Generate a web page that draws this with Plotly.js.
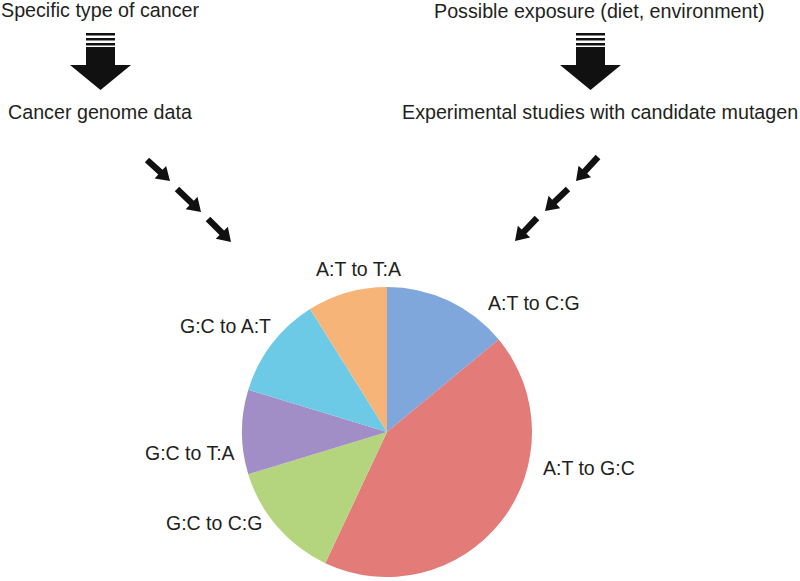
<!DOCTYPE html>
<html>
<head>
<meta charset="utf-8">
<script src="https://cdn.plot.ly/plotly-3.0.1.min.js"></script>
<style>html,body{margin:0;padding:0;background:#fff;}#chart{width:800px;height:581px;}</style>
</head>
<body>
<div id="chart"></div>
<script>
// ---- data ----
const mutationTypes = ["A:T to C:G", "A:T to G:C", "G:C to C:G", "G:C to T:A", "G:C to A:T", "A:T to T:A"];
const mutationShares = [14, 43, 13.3, 9.4, 11.4, 8.9];
const sliceColors = ["#7fa7dc", "#e37b79", "#b5d47e", "#a28ec6", "#6ccae6", "#f7b478"];
const flowTexts = ["Specific type of cancer", "Cancer genome data", "Possible exposure (diet, environment)", "Experimental studies with candidate mutagen"];

// ---- layout helpers (pixel -> paper) ----
const W = 800, H = 581;
const px = x => x / W;
const py = y => 1 - y / H;
const P = (x, y) => px(x) + "," + py(y);

function blockArrow(cx) {
  const shapes = [];
  const bw = 14.5, hw = 30.5;
  const stripes = [[33, 35.5], [38, 40.5], [43, 45.5]];
  stripes.forEach(s => {
    shapes.push({type: "path", xref: "paper", yref: "paper",
      path: "M" + P(cx - bw, s[0]) + " L" + P(cx + bw, s[0]) + " L" + P(cx + bw, s[1]) + " L" + P(cx - bw, s[1]) + " Z",
      fillcolor: "#111", line: {width: 0}});
  });
  shapes.push({type: "path", xref: "paper", yref: "paper",
    path: "M" + P(cx - bw, 47) + " L" + P(cx + bw, 47) + " L" + P(cx + bw, 65) + " L" + P(cx + hw, 65) +
          " L" + P(cx, 90) + " L" + P(cx - hw, 65) + " L" + P(cx - bw, 65) + " Z",
    fillcolor: "#111", line: {width: 0}});
  return shapes;
}

function diagArrow(x0, y0, x1, y1) {
  const dx = x1 - x0, dy = y1 - y0;
  const L = Math.hypot(dx, dy);
  const ux = dx / L, uy = dy / L, nx = -uy, ny = ux;
  const sw = 3.2, hw = 8.5, hl = 13;
  const bx = x1 - ux * hl, by = y1 - uy * hl;
  const pts = [
    [x0 + nx * sw, y0 + ny * sw],
    [bx + nx * sw, by + ny * sw],
    [bx + nx * hw, by + ny * hw],
    [x1, y1],
    [bx - nx * hw, by - ny * hw],
    [bx - nx * sw, by - ny * sw],
    [x0 - nx * sw, y0 - ny * sw]
  ];
  return {type: "path", xref: "paper", yref: "paper",
    path: "M" + pts.map(p => P(p[0], p[1])).join(" L") + " Z",
    fillcolor: "#111", line: {width: 0}};
}

const shapes = [].concat(
  blockArrow(100.5),
  blockArrow(590.5),
  [
    diagArrow(147, 160, 170, 181),
    diagArrow(177, 189, 201, 212),
    diagArrow(208, 219, 231, 242),
    diagArrow(598, 157, 576, 181),
    diagArrow(568, 189, 545, 211),
    diagArrow(537, 218, 515, 241)
  ]
);

// pie centre and radius in pixels
const cx = 387, cy = 432, r = 145;

const labelPos = [[534, 303], [589, 468], [214, 523], [190, 453], [225, 326], [358, 269]];
const flowPos = [[0, 10, "left"], [100, 112, "center"], [599, 11, "center"], [600, 112, "center"]];

const flowFont = {family: "Liberation Sans, Arial, sans-serif", size: 19.7, color: "#231f20"};
const labelFont = {family: "Liberation Sans, Arial, sans-serif", size: 19.5, color: "#231f20"};
const annotations = [];
mutationTypes.forEach((t, i) => {
  annotations.push({text: t, xref: "paper", yref: "paper", x: px(labelPos[i][0]), y: py(labelPos[i][1]),
    xanchor: "center", yanchor: "middle", showarrow: false, font: labelFont});
});
flowTexts.forEach((t, i) => {
  annotations.push({text: t, xref: "paper", yref: "paper", x: px(flowPos[i][0]), y: py(flowPos[i][1]),
    xanchor: flowPos[i][2], yanchor: "middle", showarrow: false, font: flowFont, borderpad: 0});
});

const trace = {
  type: "pie",
  labels: mutationTypes,
  values: mutationShares,
  sort: false,
  direction: "clockwise",
  rotation: 0,
  textinfo: "none",
  hoverinfo: "label+percent",
  marker: {colors: sliceColors, line: {width: 0}},
  domain: {x: [px(cx - r), px(cx + r)], y: [py(cy + r), py(cy - r)]}
};

const layout = {
  width: W, height: H,
  margin: {l: 0, r: 0, t: 0, b: 0},
  showlegend: false,
  paper_bgcolor: "#ffffff",
  plot_bgcolor: "#ffffff",
  shapes: shapes,
  annotations: annotations
};

Plotly.newPlot("chart", [trace], layout, {displayModeBar: false, staticPlot: true});
</script>
</body>
</html>
